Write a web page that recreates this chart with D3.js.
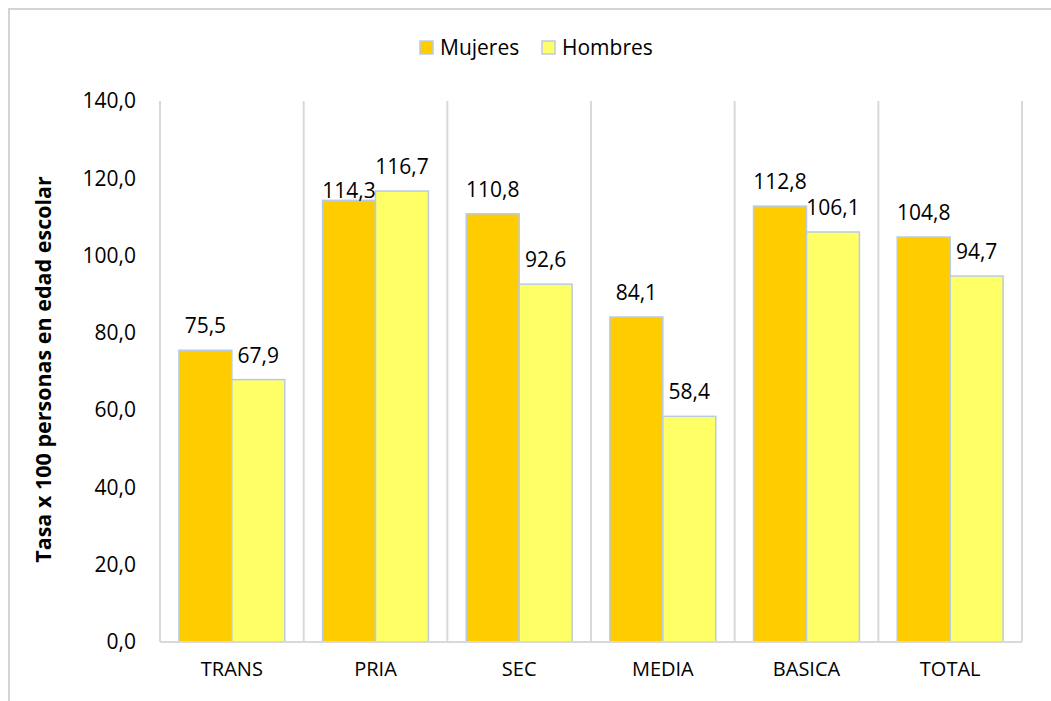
<!DOCTYPE html>
<html>
<head>
<meta charset="utf-8">
<script src="https://cdn.jsdelivr.net/npm/d3@7"></script>
<style>
  body { margin: 0; background: #fff; }
  svg { display: block; font-family: "Open Sans", sans-serif; }
  .tick text { fill: #000; }
</style>
</head>
<body>
<svg id="chart" width="1051" height="701"></svg>
<script>
// data
const categories = ['TRANS', 'PRIA', 'SEC', 'MEDIA', 'BASICA', 'TOTAL'];
const seriesNames = ['Mujeres', 'Hombres'];
const mujeres = [75.5, 114.3, 110.8, 84.1, 112.8, 104.8];
const hombres = [67.9, 116.7, 92.6, 58.4, 106.1, 94.7];
const yTicks = [0, 20, 40, 60, 80, 100, 120, 140];

const colors = { Mujeres: '#ffcc00', Hombres: '#ffff66' };
const outline = '#b8cbe4';
const gridColor = '#d9d9d9';

const config = {
  width: 1051,
  height: 701,
  margin: { top: 101, right: 29, bottom: 59, left: 160 },
  get usableWidth() { return this.width - this.margin.left - this.margin.right; },
  get usableHeight() { return this.height - this.margin.top - this.margin.bottom; },
};

const fmt = v => d3.format('.1f')(v).replace('.', ',');

const svg = d3.select('#chart');

// outer chart border (only left and top are visible in the frame)
svg.append('path')
  .attr('d', `M9,${config.height} V9 H${config.width}`)
  .attr('fill', 'none')
  .attr('stroke', '#d4d4d4')
  .attr('stroke-width', 2);

const g = svg.append('g')
  .attr('transform', `translate(${config.margin.left},${config.margin.top})`);

const rows = categories.map((c, i) => ({ cat: c, Mujeres: mujeres[i], Hombres: hombres[i] }));

const x0 = d3.scaleBand()
  .domain(categories)
  .range([0, config.usableWidth])
  .paddingInner(0.263)
  .paddingOuter(0.1315);

const x1 = d3.scaleBand()
  .domain(seriesNames)
  .range([0, x0.bandwidth()]);

const y = d3.scaleLinear()
  .domain([0, 140])
  .range([config.usableHeight, 0]);

// vertical gridlines at category boundaries
const step = x0.step();
g.append('g')
  .selectAll('line')
  .data(d3.range(categories.length + 1))
  .join('line')
  .attr('x1', i => i * step)
  .attr('x2', i => i * step)
  .attr('y1', 0)
  .attr('y2', config.usableHeight)
  .attr('stroke', gridColor)
  .attr('stroke-width', 2);

// y axis (labels only)
const yAxis = g.append('g')
  .call(d3.axisLeft(y).tickValues(yTicks).tickSize(0).tickPadding(24).tickFormat(fmt));
yAxis.select('.domain').remove();
yAxis.selectAll('text')
  .attr('font-size', 21)
  .attr('font-family', '"Open Sans", sans-serif');

// x axis
const xAxis = g.append('g')
  .attr('transform', `translate(0,${config.usableHeight})`)
  .call(d3.axisBottom(x0).tickSize(0).tickPadding(20));
xAxis.select('.domain').remove();
xAxis.selectAll('text')
  .attr('font-size', 20)
  .attr('font-family', '"Open Sans", sans-serif');

// bars
const groups = g.append('g')
  .selectAll('g')
  .data(rows)
  .join('g')
  .attr('transform', d => `translate(${x0(d.cat)},0)`);

groups.selectAll('rect')
  .data(d => seriesNames.map(s => ({ key: s, value: d[s], cat: d.cat })))
  .join('rect')
  .attr('x', d => x1(d.key))
  .attr('y', d => y(d.value))
  .attr('width', x1.bandwidth())
  .attr('height', d => y(0) - y(d.value))
  .attr('fill', d => colors[d.key])
  .attr('stroke', outline)
  .attr('stroke-width', 1.5);

// baseline
g.append('line')
  .attr('x1', 0)
  .attr('x2', config.usableWidth)
  .attr('y1', config.usableHeight)
  .attr('y2', config.usableHeight)
  .attr('stroke', gridColor)
  .attr('stroke-width', 2);

// value labels (PRIA Mujeres was nudged down in the original)
const nudge = { 'PRIA-Mujeres': 15 };
groups.selectAll('text.val')
  .data(d => seriesNames.map(s => ({ key: s, value: d[s], cat: d.cat })))
  .join('text')
  .attr('class', 'val')
  .attr('x', d => x1(d.key) + x1.bandwidth() / 2)
  .attr('y', d => y(d.value) - 17 + (nudge[d.cat + '-' + d.key] || 0))
  .attr('text-anchor', 'middle')
  .attr('font-size', 21)
  .text(d => fmt(d.value));

// y axis title
svg.append('text')
  .attr('transform', `translate(51,${config.margin.top + config.usableHeight / 2 - 2}) rotate(-90)`)
  .attr('text-anchor', 'middle')
  .attr('font-weight', 'bold')
  .attr('font-size', 21.5)
  .text('Tasa x 100 personas en edad escolar');

// legend
const legend = svg.append('g').attr('transform', 'translate(420,41)');
const item = legend.selectAll('g')
  .data(seriesNames)
  .join('g')
  .attr('transform', (d, i) => `translate(${i * 122},0)`);
item.append('rect')
  .attr('width', 13)
  .attr('height', 13)
  .attr('fill', d => colors[d])
  .attr('stroke', outline)
  .attr('stroke-width', 1.5);
item.append('text')
  .attr('x', 20)
  .attr('y', 7)
  .attr('dy', '0.35em')
  .attr('font-size', 21)
  .text(d => d);
</script>
</body>
</html>
